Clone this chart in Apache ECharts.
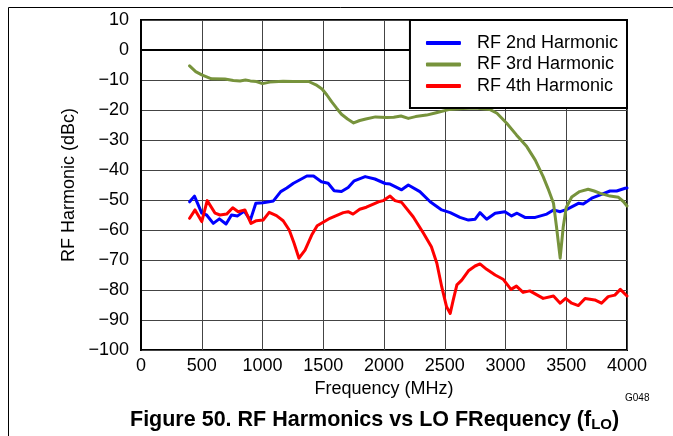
<!DOCTYPE html>
<html>
<head>
<meta charset="utf-8">
<script src="https://cdn.jsdelivr.net/npm/echarts@6/dist/echarts.min.js"></script>
<style>
html,body{margin:0;padding:0;background:#fff;}
#chart{width:673px;height:436px;}
</style>
</head>
<body>
<div id="chart"></div>
<script>
const seriesNames = ['RF 2nd Harmonic', 'RF 3rd Harmonic', 'RF 4th Harmonic'];
const xTicks = [0, 500, 1000, 1500, 2000, 2500, 3000, 3500, 4000];
const yTicks = [10, 0, -10, -20, -30, -40, -50, -60, -70, -80, -90, -100];

const blue2 = [
[400,-50.6],[440,-48.7],[500,-54.4],[540,-55],[595,-57.8],[645,-56.3],[700,-58],[745,-55],[795,-55.3],[850,-53.7],[900,-56.7],[945,-51.1],[1005,-50.9],[1090,-50.3],[1150,-47.2],[1200,-46],[1255,-44.4],[1320,-43],[1365,-42],[1420,-42],[1485,-43.9],[1540,-44.4],[1590,-46.9],[1650,-47.2],[1705,-45.8],[1755,-43.6],[1845,-42.2],[1925,-43],[2010,-44.5],[2050,-44.7],[2145,-46.6],[2200,-45],[2295,-47.2],[2380,-50.6],[2475,-53.3],[2545,-54.2],[2625,-55.8],[2695,-56.7],[2750,-56.4],[2790,-54.2],[2845,-56.4],[2915,-54.4],[2995,-53.9],[3050,-55.3],[3095,-54.4],[3160,-55.8],[3245,-55.8],[3340,-54.7],[3395,-53.3],[3450,-53.9],[3505,-53.1],[3600,-51.1],[3640,-51.3],[3710,-49.4],[3790,-48.1],[3860,-47],[3915,-47],[3985,-46.1],[4000,-46]
];

const green3 = [
[400,-5.3],[450,-7.2],[500,-8.3],[580,-9.6],[690,-9.7],[760,-10.2],[815,-10.3],[860,-10],[900,-10.3],[950,-10.5],[1000,-11.2],[1060,-10.7],[1170,-10.4],[1250,-10.5],[1380,-10.5],[1440,-11.6],[1490,-13],[1530,-15],[1570,-17.3],[1610,-19.4],[1650,-21.4],[1700,-23],[1750,-24.3],[1800,-23.5],[1850,-23],[1930,-22.3],[2020,-22.5],[2080,-22.4],[2140,-22],[2200,-22.8],[2260,-22.2],[2350,-21.7],[2430,-20.9],[2540,-19.8],[2650,-19.5],[2750,-19.3],[2870,-19.8],[2930,-21.1],[3010,-24.4],[3090,-28.3],[3175,-32.2],[3245,-36.7],[3310,-42.2],[3350,-46.2],[3395,-51.1],[3420,-59],[3450,-69.4],[3475,-59],[3500,-52.5],[3545,-49],[3610,-47.2],[3680,-46.4],[3730,-47],[3780,-47.8],[3860,-48.7],[3930,-49.1],[3970,-50.5],[4000,-52]
];

const red4 = [
[400,-56.1],[445,-53.3],[500,-57.2],[545,-50.2],[610,-54.4],[650,-55],[705,-54.7],[755,-52.6],[800,-53.9],[855,-53.3],[905,-57.8],[950,-56.9],[1005,-56.7],[1055,-54.1],[1115,-55.2],[1170,-56.9],[1220,-60],[1260,-64.4],[1300,-69.4],[1350,-66.7],[1405,-61.7],[1450,-58.6],[1555,-56.1],[1665,-54.2],[1705,-53.9],[1745,-54.7],[1800,-53.1],[1855,-52.4],[1955,-50.6],[1995,-50.2],[2050,-48.7],[2090,-50.2],[2145,-50.8],[2240,-55.6],[2325,-61.1],[2390,-65.6],[2435,-71.1],[2475,-78.9],[2515,-85.6],[2545,-87.8],[2570,-83.3],[2600,-78.3],[2640,-76.7],[2695,-73.6],[2750,-72],[2790,-71.3],[2845,-73.1],[2915,-75],[2980,-76.4],[3045,-79.8],[3090,-78.7],[3145,-80.8],[3200,-80.3],[3310,-82.8],[3395,-82],[3450,-84.4],[3495,-82.8],[3545,-84.4],[3600,-85.2],[3655,-82.8],[3735,-83.3],[3790,-84.4],[3845,-82.2],[3900,-81.7],[3945,-79.8],[4000,-82]
];

const FONT = 'Liberation Sans, Arial, sans-serif';
const chart = echarts.init(document.getElementById('chart'), null, {renderer: 'canvas'});

function mkSeries(name, data, color, z) {
  return {
    name: name, type: 'line', data: data, showSymbol: false, symbol: 'none',
    lineStyle: {color: color, width: 3, join: 'round', cap: 'round'},
    itemStyle: {color: color},
    z: z, animation: false
  };
}

chart.setOption({
  animation: false,
  backgroundColor: '#fff',
  textStyle: {fontFamily: FONT},
  title: {
    text: 'Figure 50. RF Harmonics vs LO FRequency (f{sub|LO})',
    left: 130, top: 408, padding: 0,
    textStyle: {
      fontFamily: FONT, fontSize: 21.5, fontWeight: 'bold', color: '#000',
      rich: {sub: {fontFamily: FONT, fontSize: 15, fontWeight: 'bold', color: '#000', verticalAlign: 'bottom', padding: [9, 0, 0, 0]}}
    }
  },
  grid: {left: 141, top: 20, width: 486, height: 330, show: true, borderColor: '#000', borderWidth: 2, backgroundColor: 'transparent'},
  legend: {
    data: seriesNames,
    orient: 'vertical',
    right: 46, top: 20,
    icon: 'roundRect',
    itemWidth: 35, itemHeight: 4,
    itemGap: 3.5,
    padding: [14, 9, 13, 16],
    backgroundColor: '#fff',
    borderColor: '#000', borderWidth: 2,
    textStyle: {fontFamily: FONT, fontSize: 18, color: '#000', padding: [0, 0, 0, 11]},
    z: 10
  },
  xAxis: {
    type: 'value', min: xTicks[0], max: xTicks[xTicks.length - 1], interval: 500,
    name: 'Frequency (MHz)', nameLocation: 'middle', nameGap: 29,
    nameTextStyle: {fontFamily: FONT, fontSize: 18, color: '#000'},
    axisLine: {show: true, lineStyle: {color: '#000', width: 2}},
    axisTick: {show: false},
    axisLabel: {fontFamily: FONT, fontSize: 18, color: '#000', margin: 7,
      formatter: function (v) { return String(v); }},
    splitLine: {show: true, lineStyle: {color: '#444', width: 1}}
  },
  yAxis: {
    type: 'value', min: yTicks[yTicks.length - 1], max: yTicks[0], interval: 10,
    name: 'RF Harmonic (dBc)', nameLocation: 'middle', nameGap: 55,
    nameTextStyle: {fontFamily: FONT, fontSize: 18, color: '#000'},
    axisLine: {show: true, lineStyle: {color: '#000', width: 2}},
    axisTick: {show: false},
    axisLabel: {fontFamily: FONT, fontSize: 18, color: '#000', margin: 12,
      formatter: function (v) { return String(v).replace('-', '\u2212'); }},
    splitLine: {show: true, lineStyle: {color: '#444', width: 1}}
  },
  graphic: [
    {type: 'polyline', shape: {points: [[8.5, 436], [8.5, 7.5], [673, 7.5]]}, style: {stroke: '#000', lineWidth: 1, fill: null}},
    {type: 'text', left: 625, top: 393, style: {text: 'G048', font: '10px ' + FONT, fill: '#000'}}
  ],
  series: [
    mkSeries(seriesNames[0], blue2, '#0000ff', 2),
    mkSeries(seriesNames[1], green3, '#77933c', 3),
    mkSeries(seriesNames[2], red4, '#ff0000', 4)
  ]
});
</script>
</body>
</html>
